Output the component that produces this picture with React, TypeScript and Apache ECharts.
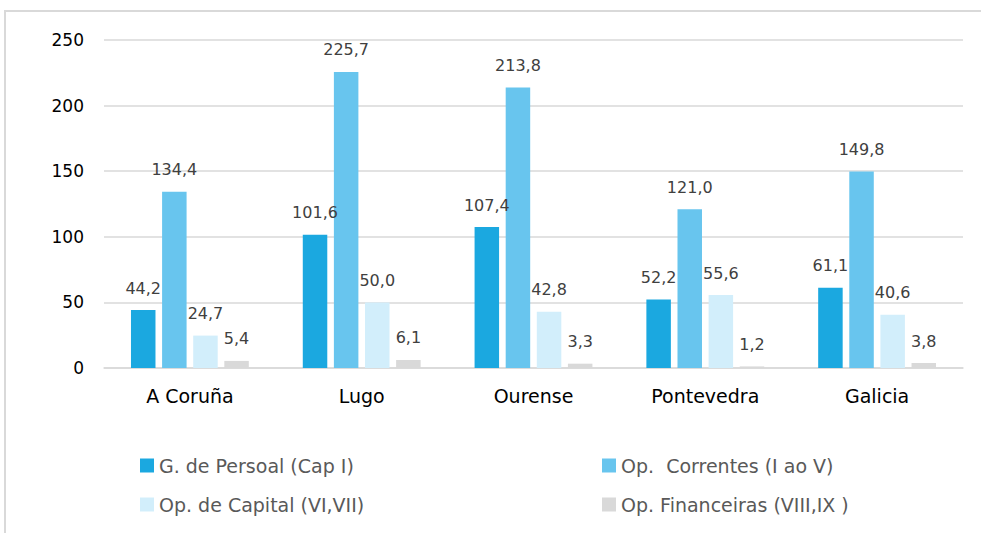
import React, { useEffect, useRef } from "react";
import * as echarts from "echarts";

const categories = ["A Coruña", "Lugo", "Ourense", "Pontevedra", "Galicia"];
const seriesNames = [
  "G. de Persoal (Cap I)",
  "Op.  Correntes (I ao V)",
  "Op. de Capital (VI,VII)",
  "Op. Financeiras (VIII,IX )",
];
const persoal = [44.2, 101.6, 107.4, 52.2, 61.1];
const correntes = [134.4, 225.7, 213.8, 121.0, 149.8];
const capital = [24.7, 50.0, 42.8, 55.6, 40.6];
const financeiras = [5.4, 6.1, 3.3, 1.2, 3.8];
const colors = ["#1BA8E0", "#68C5EE", "#D2EEFB", "#D9D9D9"];

const FONT = "DejaVu Sans";

export default function App() {
  const ref = useRef<HTMLDivElement>(null);
  useEffect(() => {
    if (!ref.current) return;
    const chart = echarts.init(ref.current, null, { renderer: "svg" });
    const values = [persoal, correntes, capital, financeiras];
    const legendPos = [
      { left: 140, top: 456 },
      { left: 602, top: 456 },
      { left: 140, top: 495 },
      { left: 602, top: 495 },
    ];
    chart.setOption({
      animation: false,
      backgroundColor: "#ffffff",
      color: colors,
      graphic: [
        {
          type: "line",
          shape: { x1: 4, y1: 11, x2: 990, y2: 11 },
          style: { stroke: "#d9d9d9", lineWidth: 2 },
          silent: true,
          z: -10,
        },
        {
          type: "line",
          shape: { x1: 5, y1: 10, x2: 5, y2: 540 },
          style: { stroke: "#d9d9d9", lineWidth: 2 },
          silent: true,
          z: -10,
        },
      ],
      legend: seriesNames.map((n, i) => ({
        data: [n],
        left: legendPos[i].left,
        top: legendPos[i].top,
        padding: 0,
        itemWidth: 14,
        itemHeight: 14,
        icon: "rect",
        textStyle: { fontFamily: FONT, fontSize: 19, color: "#595959" },
        selectedMode: false,
      })),
      grid: { left: 104, right: 18, top: 40, height: 328, containLabel: false },
      xAxis: {
        type: "category",
        data: categories,
        axisLine: { lineStyle: { color: "#d9d9d9", width: 1.5 } },
        axisTick: { show: false },
        axisLabel: { fontFamily: FONT, fontSize: 19, color: "#000000", margin: 18 },
      },
      yAxis: {
        type: "value",
        min: 0,
        max: 250,
        interval: 50,
        axisLine: { show: false },
        axisTick: { show: false },
        axisLabel: { fontFamily: FONT, fontSize: 17, color: "#000000", margin: 20 },
        splitLine: { lineStyle: { color: "#d9d9d9", width: 1.5 } },
      },
      series: seriesNames.map((n, i) => ({
        name: n,
        type: "bar",
        data: values[i],
        barWidth: 24.5,
        barGap: "27%",
        itemStyle: { color: colors[i] },
        label: {
          show: true,
          position: "top",
          distance: 14,
          fontFamily: FONT,
          fontSize: 16,
          color: "#404040",
          formatter: (p: any) => Number(p.value).toFixed(1).replace(".", ","),
        },
      })),
    });
    return () => chart.dispose();
  }, []);
  return (
    <div
      ref={ref}
      style={{ position: "fixed", left: 0, top: 0, width: 981, height: 533 }}
    />
  );
}
